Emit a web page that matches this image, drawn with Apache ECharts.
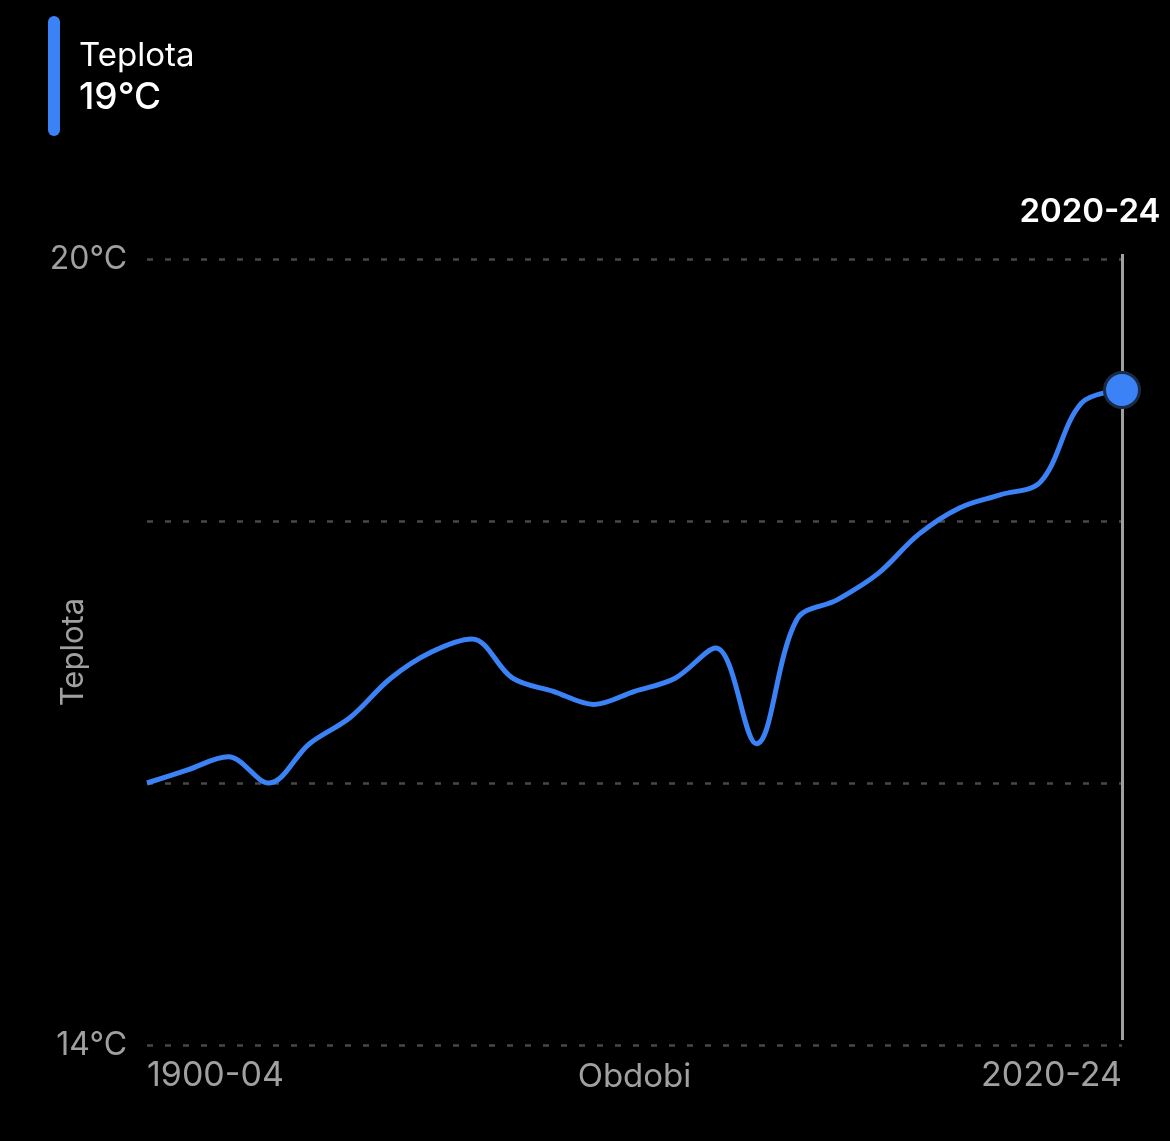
<!DOCTYPE html>
<html lang="cs">
<head>
	<meta charset="UTF-8">
	<title>Teplota</title>
	<script src="https://cdn.jsdelivr.net/npm/echarts@6/dist/echarts.min.js"></script>
	<style>
		html, body { margin: 0; padding: 0; background: #000; }
		#main { width: 1170px; height: 1141px; }
	</style>
</head>
<body>
	<div id="main"></div>
	<script>
		var periods = ['1900-04', '1905-09', '1910-14', '1915-19', '1920-24', '1925-29', '1930-34', '1935-39', '1940-44', '1945-49', '1950-54', '1955-59', '1960-64', '1965-69', '1970-74', '1975-79', '1980-84', '1985-89', '1990-94', '1995-99', '2000-04', '2005-09', '2010-14', '2015-19', '2020-24'];
		var temps = [16.0, 16.1, 16.2, 16.0, 16.3, 16.5, 16.8, 17.0, 17.1, 16.8, 16.7, 16.6, 16.7, 16.8, 17.03, 16.3, 17.25, 17.4, 17.6, 17.9, 18.1, 18.2, 18.3, 18.9, 19.0];
		var yTicks = [14, 16, 18, 20];
		var yLabels = ['14°C', '20°C'];

		var fontName = 'Inter';
		var blue = '#3b82f6';
		var grey = '#a0a0a0';
		var lastPeriod = periods[periods.length - 1];
		var lastTemp = temps[temps.length - 1];
		var yMin = yTicks[0];
		var yMax = yTicks[yTicks.length - 1];

		var myChart = echarts.init(document.getElementById('main'));
		myChart.setOption({
			backgroundColor: '#000',
			animation: false,
			textStyle: { fontFamily: fontName },
			grid: [
				{ left: 147, right: 48, top: 259, bottom: 96 },
				// second grid only for the cursor rule, it sits a little higher than the plot
				{ left: 147, right: 48, top: 254, bottom: 101 }
			],
			xAxis: [{
				type: 'category',
				data: periods,
				boundaryGap: false,
				name: 'Obdobi',
				nameLocation: 'middle',
				nameGap: 16,
				nameMoveOverlap: false,
				nameTextStyle: { color: grey, fontSize: 33, fontFamily: fontName, verticalAlign: 'top' },
				axisLine: { show: false },
				axisTick: { show: false },
				axisLabel: {
					color: grey,
					fontSize: 34,
					margin: 14,
					interval: function (i) { return i === 0 || i === periods.length - 1; },
					alignMinLabel: 'left',
					alignMaxLabel: 'right'
				},
				splitLine: { show: false }
			}, {
				type: 'category',
				gridIndex: 1,
				show: false,
				data: periods,
				boundaryGap: false
			}],
			yAxis: [{
				type: 'value',
				min: yMin,
				max: yMax,
				interval: 2,
				name: 'Teplota',
				nameLocation: 'middle',
				nameGap: 58,
				nameMoveOverlap: false,
				nameTextStyle: { color: grey, fontSize: 31, fontFamily: fontName },
				axisLine: { show: false },
				axisTick: { show: false },
				axisLabel: {
					color: grey,
					fontSize: 32,
					margin: 20,
					formatter: function (v) {
						var s = v + '°C';
						return yLabels.indexOf(s) >= 0 ? s : '';
					}
				},
				splitLine: {
					show: true,
					lineStyle: { color: '#484848', width: 2.5, type: [6, 12] }
				}
			}, {
				type: 'value',
				gridIndex: 1,
				show: false,
				min: yMin,
				max: yMax
			}],
			graphic: [
				{ type: 'rect', shape: { x: 48, y: 16, width: 12, height: 120, r: 6 }, style: { fill: blue } },
				{ type: 'text', style: { x: 79, y: 40, text: 'Teplota', fill: '#fff', font: '400 33px ' + fontName } },
				{ type: 'text', style: { x: 79, y: 79, text: '19°C', fill: '#fff', font: '500 37px ' + fontName } }
			],
			series: [{
				name: 'cursor',
				type: 'line',
				xAxisIndex: 1,
				yAxisIndex: 1,
				data: [],
				silent: true,
				markLine: {
					silent: true,
					symbol: 'none',
					lineStyle: { color: grey, width: 3, type: 'solid' },
					label: {
						show: true,
						position: 'end',
						formatter: lastPeriod,
						color: '#fff',
						fontSize: 33,
						fontWeight: 600,
						fontFamily: fontName,
						offset: [-32, -20]
					},
					data: [[
						{ coord: [lastPeriod, yMin] },
						{ coord: [lastPeriod, yMax] }
					]]
				}
			}, {
				name: 'Teplota',
				type: 'line',
				data: temps,
				smooth: 0.35,
				showSymbol: false,
				lineStyle: { color: blue, width: 5 },
				markPoint: {
					silent: true,
					symbol: 'circle',
					symbolSize: 35,
					itemStyle: { color: blue, borderColor: '#1b2b45', borderWidth: 3 },
					label: { show: false },
					data: [{ coord: [lastPeriod, lastTemp] }]
				}
			}]
		});
	</script>
</body>
</html>
